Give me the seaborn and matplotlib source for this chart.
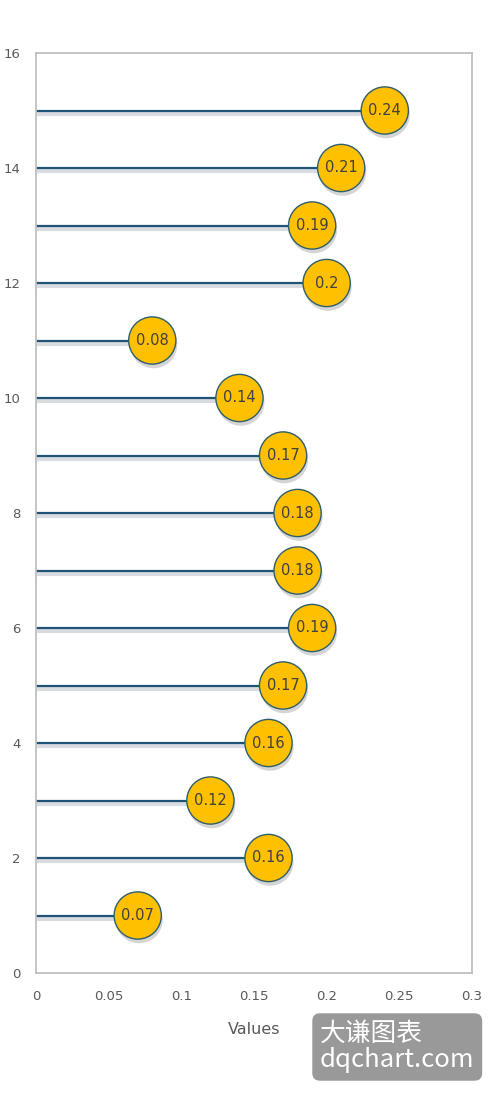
import matplotlib
matplotlib.use("Agg")
import matplotlib.pyplot as plt
import matplotlib.patheffects as pe
import seaborn as sns
import pandas as pd

positions = list(range(1, 16))
values = [0.07, 0.16, 0.12, 0.16, 0.17, 0.19, 0.18, 0.18, 0.17, 0.14, 0.08, 0.2, 0.19, 0.21, 0.24]
x_ticks = [0, 0.05, 0.1, 0.15, 0.2, 0.25, 0.3]
x_tick_labels = ["0", "0.05", "0.1", "0.15", "0.2", "0.25", "0.3"]
y_ticks = list(range(0, 17, 2))

df = pd.DataFrame({"pos": positions, "val": values})

sns.set_theme(style="white")
plt.rcParams['font.family'] = ['DejaVu Sans', 'Noto Sans CJK SC']

fig = plt.figure(figsize=(4.96, 10.94), dpi=100)
ax = fig.add_axes([36/496, 121/1094, 436/496, 920/1094])

line_color = "#1F5378"
shadow = [pe.SimpleLineShadow(offset=(0.5, -2.5), shadow_color="#7f8c99", alpha=0.3, linewidth=3), pe.Normal()]
ax.hlines(df["pos"], 0, df["val"], color=line_color, linewidth=1.6, zorder=2, path_effects=shadow)

sns.scatterplot(data=df, x="val", y="pos", ax=ax, s=34**2, color="#FFC000",
                edgecolor="#2E5E6E", linewidth=1, zorder=3, legend=False,
                path_effects=[pe.SimplePatchShadow(offset=(1, -3), shadow_rgbFace="#777777", alpha=0.3), pe.Normal()])

for p, v in zip(positions, values):
    ax.text(v, p, f"{v:g}", ha="center", va="center", fontsize=10.5, color="#404040", zorder=4)

ax.set_xlim(0, 0.3)
ax.set_ylim(0, 16)
ax.set_xticks(x_ticks)
ax.set_xticklabels(x_tick_labels)
ax.set_yticks(y_ticks)
ax.tick_params(axis="both", length=0, labelsize=9.5, labelcolor="#595959")
ax.tick_params(axis="x", pad=12)
ax.tick_params(axis="y", pad=11)
ax.set_xlabel("Values", fontsize=11.5, color="#595959", labelpad=14)
ax.set_ylabel("")
for s in ax.spines.values():
    s.set_color("#BFBFBF")
    s.set_linewidth(1.3)
    s.set_visible(True)

fig.text(320/496, 1 - 1047/1094, "大谦图表\ndqchart.com", fontsize=18.5, color="white",
         family=['Noto Sans CJK SC', 'DejaVu Sans'], ha="left", va="center", linespacing=1.0,
         bbox=dict(boxstyle="round,pad=0.3,rounding_size=0.3", facecolor="#999999", edgecolor="none"))

fig.savefig("out.png", dpi=100)
